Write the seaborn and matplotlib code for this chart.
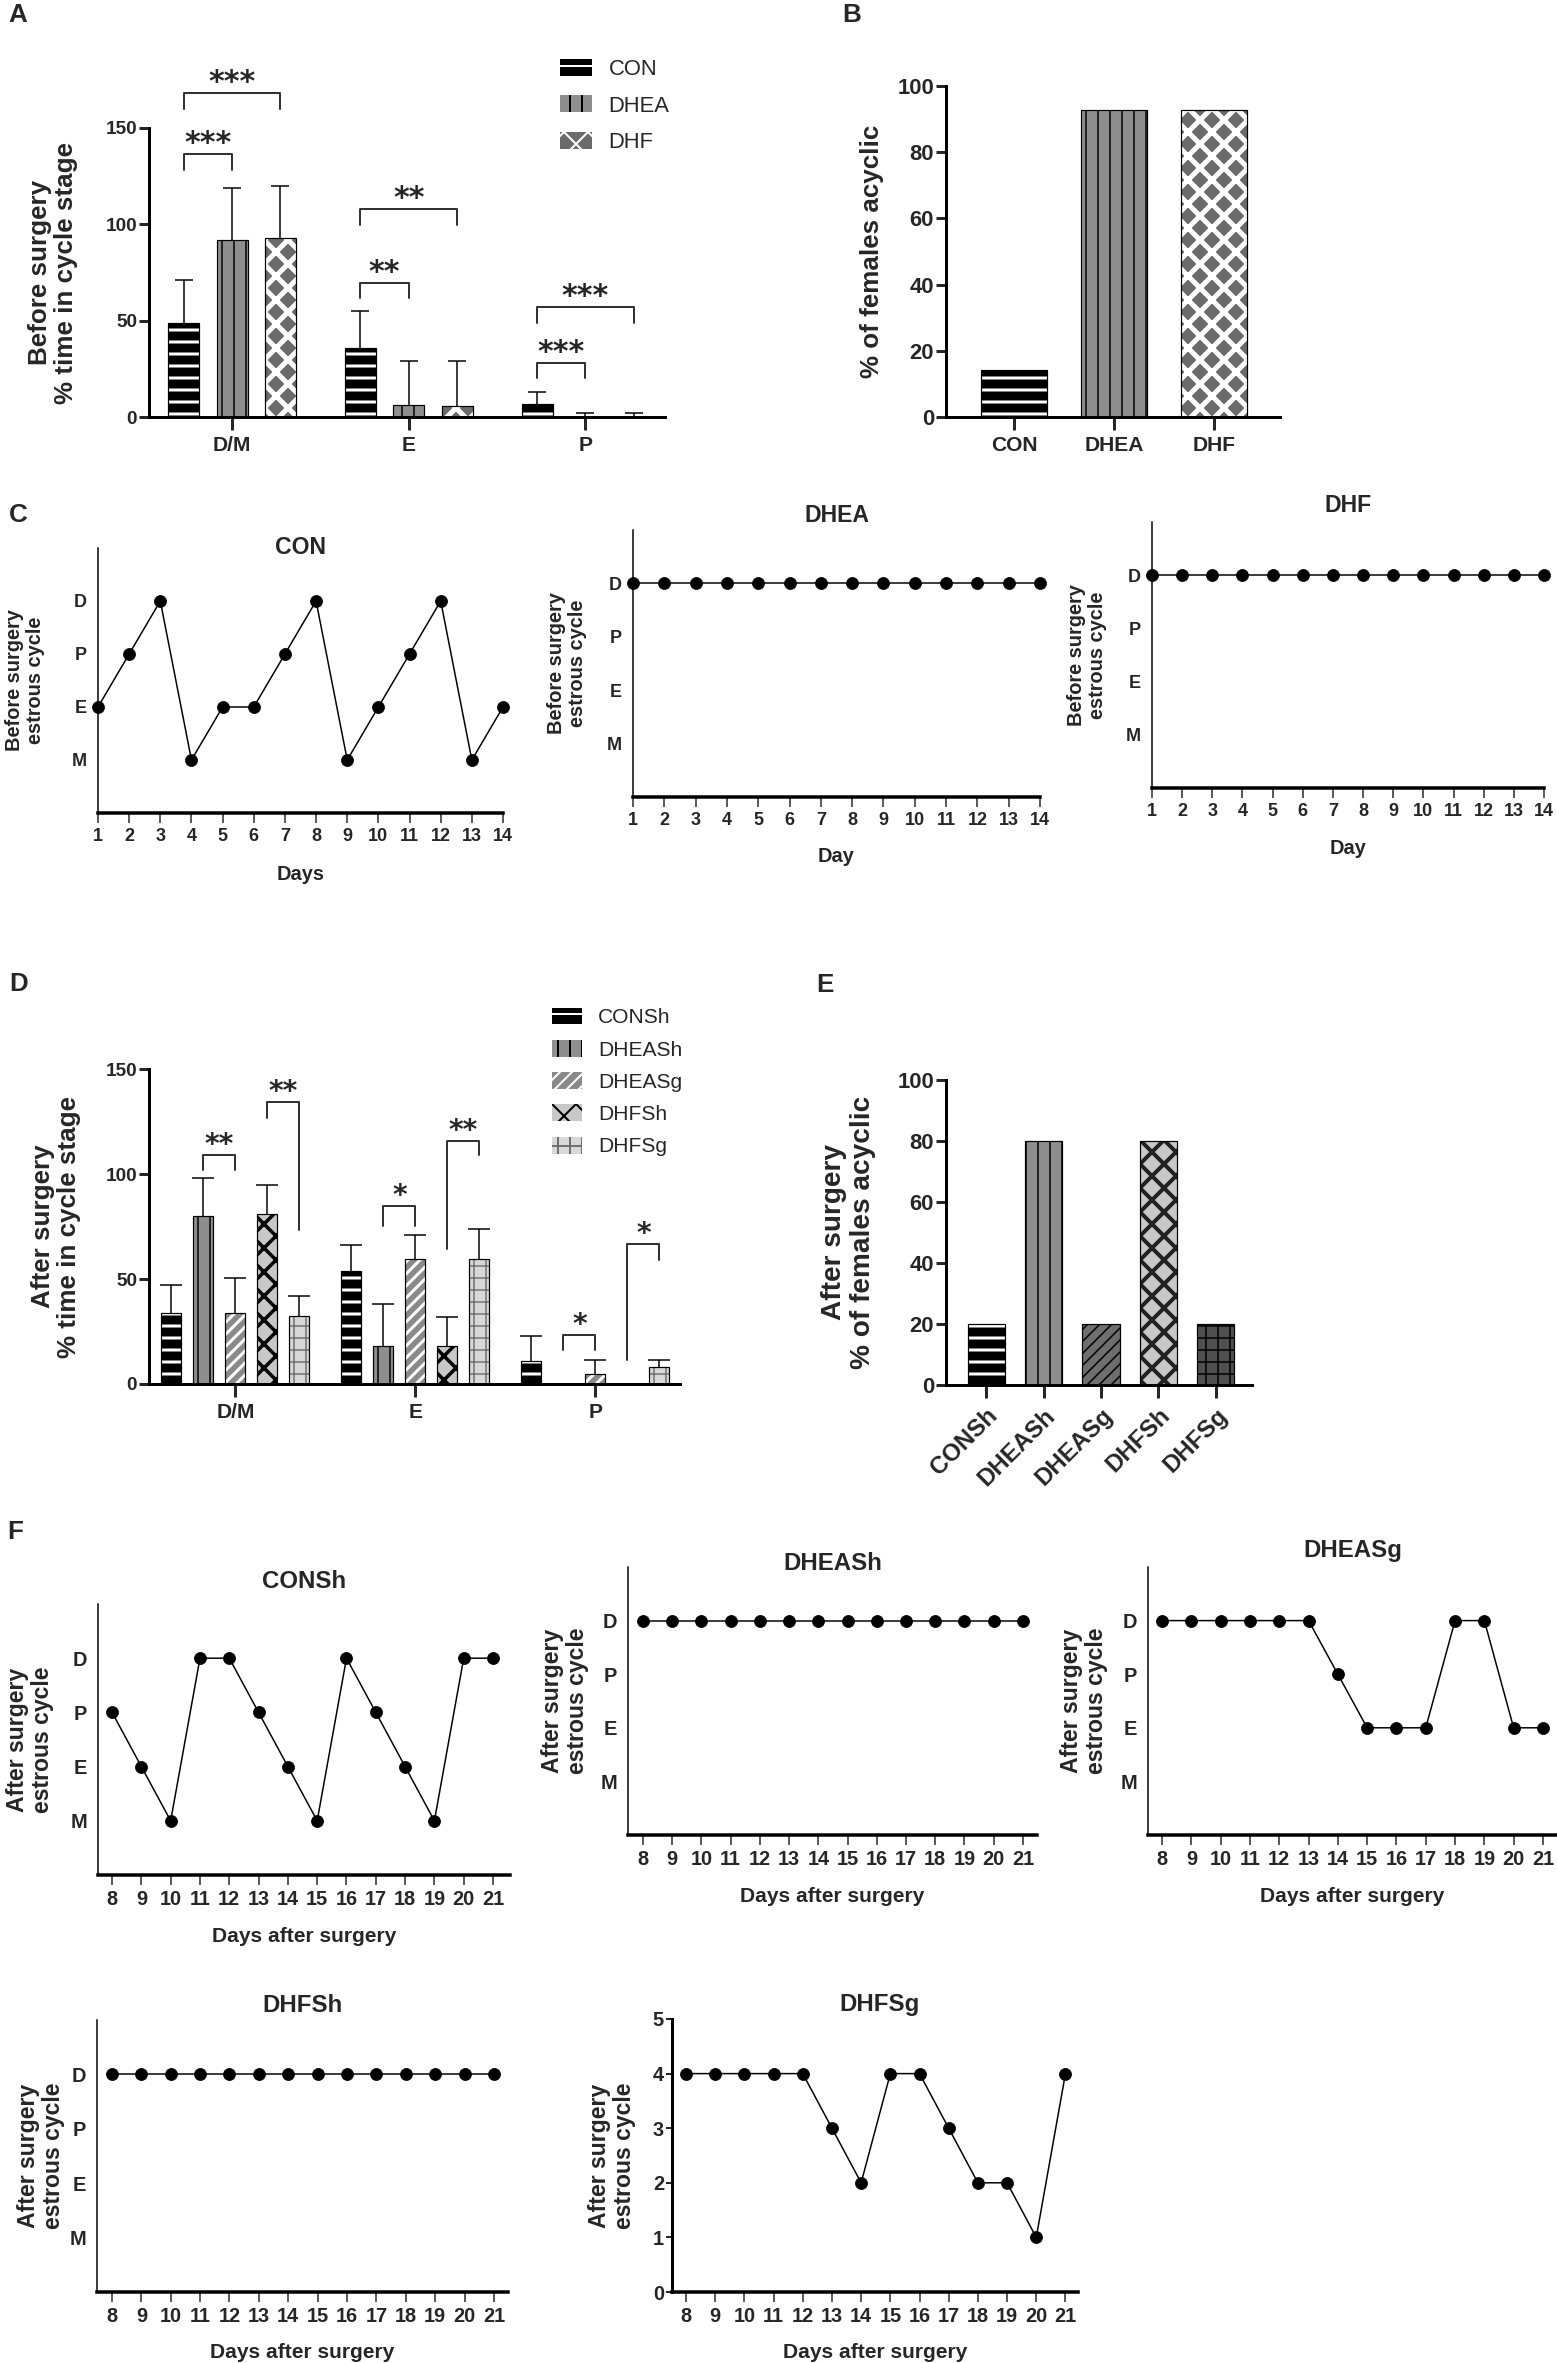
import numpy as np
import pandas as pd
import matplotlib
matplotlib.use("Agg")
import matplotlib.pyplot as plt
from matplotlib.patches import Patch, Rectangle
import seaborn as sns

# ---------------- data ----------------
stage_labels = ["D/M", "E", "P"]

# before surgery, % time in cycle stage (mean and SD)
pre_groups = ["CON", "DHEA", "DHF"]
pre_con_mean = [49, 36, 7]
pre_con_sd = [22, 19, 6]
pre_dhea_mean = [92, 6, 0]
pre_dhea_sd = [27, 23, 2]
pre_dhf_mean = [93, 5.5, 0]
pre_dhf_sd = [27, 23.5, 2]

# % of females acyclic before surgery
acyclic_pre = [14.3, 92.9, 92.9]

# after surgery, % time in cycle stage (mean and SD)
post_groups = ["CONSh", "DHEASh", "DHEASg", "DHFSh", "DHFSg"]
post_consh_mean = [34, 54, 11]
post_consh_sd = [13, 12, 12]
post_dheash_mean = [80, 18, 0]
post_dheash_sd = [18, 20, 0]
post_dheasg_mean = [34, 59.5, 5]
post_dheasg_sd = [16.5, 11.5, 6.5]
post_dhfsh_mean = [81, 18, 0]
post_dhfsh_sd = [14, 14, 0]
post_dhfsg_mean = [32.5, 59.5, 8]
post_dhfsg_sd = [9.5, 14.5, 3.5]

# % of females acyclic after surgery
acyclic_post = [20, 80, 20, 80, 20]

# significance brackets: stage index, bar a, bar b, top, left leg end, right leg end, label
pre_sig_stage = [0, 0, 1, 1, 2, 2]
pre_sig_a = [0, 0, 0, 0, 0, 0]
pre_sig_b = [2, 1, 2, 1, 2, 1]
pre_sig_top = [168, 136.5, 108, 69.5, 57, 28]
pre_sig_left = [160, 128, 99.6, 61.8, 48.8, 20.2]
pre_sig_right = [160, 128, 99.6, 61.8, 48.8, 20.2]
pre_sig_label = ["***", "***", "**", "**", "***", "***"]

post_sig_stage = [0, 0, 1, 1, 2, 2]
post_sig_a = [1, 3, 1, 3, 1, 3]
post_sig_b = [2, 4, 2, 4, 2, 4]
post_sig_top = [108.9, 134.1, 84.6, 115.9, 23.2, 66.8]
post_sig_left = [102.1, 126.7, 75.1, 64.4, 16.3, 11.6]
post_sig_right = [102.1, 73.5, 75.1, 109.2, 16.3, 59.2]
post_sig_label = ["**", "**", "*", "**", "*", "*"]

# estrous cycle tracks
stage_names = ["M", "E", "P", "D"]
pre_days = [1, 2, 3, 4, 5, 6, 7, 8, 9, 10, 11, 12, 13, 14]
con_cycle = ["E", "P", "D", "M", "E", "E", "P", "D", "M", "E", "P", "D", "M", "E"]
dhea_cycle = ["D", "D", "D", "D", "D", "D", "D", "D", "D", "D", "D", "D", "D", "D"]
dhf_cycle = ["D", "D", "D", "D", "D", "D", "D", "D", "D", "D", "D", "D", "D", "D"]

post_days = [8, 9, 10, 11, 12, 13, 14, 15, 16, 17, 18, 19, 20, 21]
consh_cycle = ["P", "E", "M", "D", "D", "P", "E", "M", "D", "P", "E", "M", "D", "D"]
dheash_cycle = ["D", "D", "D", "D", "D", "D", "D", "D", "D", "D", "D", "D", "D", "D"]
dheasg_cycle = ["D", "D", "D", "D", "D", "D", "P", "E", "E", "E", "D", "D", "E", "E"]
dhfsh_cycle = ["D", "D", "D", "D", "D", "D", "D", "D", "D", "D", "D", "D", "D", "D"]
dhfsg_cycle = [4, 4, 4, 4, 4, 3, 2, 4, 4, 3, 2, 2, 1, 4]

# ---------------- tables ----------------
def long_table(groups, means, sds):
    rows = []
    for g, m, s in zip(groups, means, sds):
        for st, mv, sv in zip(stage_labels, m, s):
            rows.append({"group": g, "stage": st, "mean": mv, "sd": sv})
    return pd.DataFrame(rows)

pre_df = long_table(pre_groups,
                    [pre_con_mean, pre_dhea_mean, pre_dhf_mean],
                    [pre_con_sd, pre_dhea_sd, pre_dhf_sd])
post_df = long_table(post_groups,
                     [post_consh_mean, post_dheash_mean, post_dheasg_mean, post_dhfsh_mean, post_dhfsg_mean],
                     [post_consh_sd, post_dheash_sd, post_dheasg_sd, post_dhfsh_sd, post_dhfsg_sd])

# ---------------- figure ----------------
W, H, DPI = 1557, 2363, 72
sns.set_theme(style="ticks")
plt.rcParams["font.family"] = ["Liberation Sans", "DejaVu Sans"]
plt.rcParams["hatch.linewidth"] = 2.0
fig = plt.figure(figsize=(W / DPI, H / DPI), dpi=DPI)

# fill, hatch, hatch colour, hatch width
pre_styles = {
    "CON": ("black", "-", "white", 3.0),
    "DHEA": ("#8e8e8e", "|", "black", 1.5),
    "DHF": ("#6a6a6a", "x", "white", 5.0),
}
post_styles_d = {
    "CONSh": ("black", "-", "white", 3.0),
    "DHEASh": ("#8e8e8e", "|", "black", 1.5),
    "DHEASg": ("#8a8a8a", "//", "white", 3.0),
    "DHFSh": ("#c8c8c8", "x", "black", 3.5),
    "DHFSg": ("#d8d8d8", "+", "#707070", 1.5),
}
post_styles_e = {
    "CONSh": ("black", "-", "white", 3.0),
    "DHEASh": ("#8e8e8e", "|", "black", 1.5),
    "DHEASg": ("#6e6e6e", "//", "black", 1.5),
    "DHFSh": ("#c8c8c8", "x", "#222222", 4.0),
    "DHFSg": ("#505050", "+", "black", 1.5),
}


def px_axes(box):
    x0, y0, x1, y1 = box
    return fig.add_axes([x0 / W, 1 - y1 / H, (x1 - x0) / W, (y1 - y0) / H])


def place_labels(ax, box, ylabel_x, xlabel_y=None):
    x0, y0, x1, y1 = box
    ax.yaxis.set_label_coords((ylabel_x - x0) / (x1 - x0), 0.5)
    ax.yaxis.label.set_va("center")
    if xlabel_y is not None:
        ax.xaxis.set_label_coords(0.5, (y1 - xlabel_y) / (y1 - y0))
        ax.xaxis.label.set_va("center")


def style_patch(p, fc, hatch, hc, hlw):
    p.set_facecolor(fc)
    p.set_hatch(hatch)
    p.set_edgecolor(hc)
    p.set_linewidth(0)
    if hasattr(p, "set_hatch_linewidth"):
        p.set_hatch_linewidth(hlw)


def outline(ax, p):
    if p.get_height() > 0:
        ax.add_patch(Rectangle(p.get_xy(), p.get_width(), p.get_height(), fill=False,
                               ec="black", lw=1.2, zorder=p.get_zorder() + 0.5))


def panel_letter(x, y, s):
    fig.text(x / W, 1 - y / H, s, fontsize=26, fontweight="bold", ha="center", va="center")


def axis_style(ax, lw_left=3, lw_bottom=3):
    sns.despine(ax=ax)
    ax.spines["left"].set_linewidth(lw_left)
    ax.spines["bottom"].set_linewidth(lw_bottom)
    ax.spines["left"].set_color("black")
    ax.spines["bottom"].set_color("black")


def grouped_bars(ax, box, df, groups, styles, width, gap, xlim, ylim, yticks, ylabel, ylabel_x,
                 sig, capsize, star_fs, ytick_fs, ylabel_fs):
    sns.barplot(data=df, x="stage", y="mean", hue="group", order=stage_labels, hue_order=groups,
                width=width, gap=gap, errorbar=None, legend=False, ax=ax)
    n = len(stage_labels)
    bars = {}
    for h, g in enumerate(groups):
        for s in range(n):
            p = ax.patches[h * n + s]
            style_patch(p, *styles[g])
            bars[(s, h)] = p
    for (s, h), p in list(bars.items()):
        outline(ax, p)
        sd = df[(df.group == groups[h]) & (df.stage == stage_labels[s])]["sd"].iloc[0]
        if sd > 0:
            xc = p.get_x() + p.get_width() / 2
            m = p.get_height()
            eb = ax.errorbar([xc], [m], yerr=[[0], [sd]], fmt="none", ecolor="black",
                             elinewidth=1.5, capsize=capsize, capthick=1.5, zorder=5)
            for cl in eb.lines[1]:
                if np.allclose(cl.get_ydata(), m):
                    cl.set_visible(False)
    for s, a, b, top, l1, l2, lab in zip(*sig):
        xa = bars[(s, a)].get_x() + bars[(s, a)].get_width() / 2
        xb = bars[(s, b)].get_x() + bars[(s, b)].get_width() / 2
        ax.plot([xa, xa, xb, xb], [l1, top, top, l2], color="#333333", lw=2, clip_on=False)
        ax.text((xa + xb) / 2, top + 1, lab, ha="center", va="baseline", fontsize=star_fs,
                fontweight="bold", family="DejaVu Sans", clip_on=False)
    axis_style(ax)
    ax.set_xlim(*xlim)
    ax.set_ylim(*ylim)
    ax.set_yticks(yticks)
    ax.set_xlabel("")
    ax.set_ylabel(ylabel, fontsize=ylabel_fs, fontweight="bold", linespacing=1.15)
    ax.tick_params(axis="y", length=10, width=3, pad=2, labelsize=ytick_fs)
    ax.tick_params(axis="x", length=13, width=3, pad=6, labelsize=21)
    for t in ax.get_yticklabels() + ax.get_xticklabels():
        t.set_fontweight("bold")
    place_labels(ax, box, ylabel_x)


def single_bars(ax, box, groups, values, styles, width, xlim, ylabel, ylabel_x, ytick_fs, ylabel_fs):
    sns.barplot(x=groups, y=values, width=width, color="white", errorbar=None, ax=ax)
    for g, p in zip(groups, list(ax.patches)):
        style_patch(p, *styles[g])
        outline(ax, p)
    axis_style(ax)
    ax.set_xlim(*xlim)
    ax.set_ylim(0, 100)
    ax.set_yticks([0, 20, 40, 60, 80, 100])
    ax.set_ylabel(ylabel, fontsize=ylabel_fs, fontweight="bold", linespacing=1.15)
    ax.tick_params(axis="y", length=10, width=3, pad=2, labelsize=ytick_fs)
    ax.tick_params(axis="x", length=13, width=3, pad=6, labelsize=21)
    for t in ax.get_yticklabels() + ax.get_xticklabels():
        t.set_fontweight("bold")
    place_labels(ax, box, ylabel_x)


def cycle_panel(ax, box, days, cycle, title, title_y, xlabel, xlabel_y, ylabel, ylabel_x, xlim,
                fs_tick, fs_title, fs_xlabel, fs_ylabel, numeric=False, title_x=0.5):
    if numeric:
        yv = list(cycle)
    else:
        yv = [stage_names.index(c) + 1 for c in cycle]
    sns.lineplot(x=days, y=yv, ax=ax, color="black", linewidth=1.5, marker="o", markersize=12,
                 markeredgecolor="black", markerfacecolor="black", clip_on=False, zorder=5)
    axis_style(ax, lw_left=3 if numeric else 1.5, lw_bottom=3.5)
    ax.set_xlim(*xlim)
    ax.set_ylim(0, 5)
    ax.set_xticks(days)
    ax.set_xticklabels([str(d) for d in days])
    if numeric:
        ax.set_yticks([0, 1, 2, 3, 4, 5])
        ax.tick_params(axis="y", length=6, width=2, pad=2, labelsize=fs_tick)
    else:
        ax.set_yticks([1, 2, 3, 4])
        ax.set_yticklabels(stage_names)
        ax.tick_params(axis="y", length=0, pad=11, labelsize=fs_tick)
    ax.tick_params(axis="x", length=10, width=1.5, pad=5, labelsize=fs_tick)
    for t in ax.get_yticklabels() + ax.get_xticklabels():
        t.set_fontweight("bold")
    ax.set_xlabel(xlabel, fontsize=fs_xlabel, fontweight="bold")
    ax.set_ylabel(ylabel, fontsize=fs_ylabel, fontweight="bold", linespacing=1.1)
    place_labels(ax, box, ylabel_x, xlabel_y)
    x0, y0, x1, y1 = box
    ax.text(title_x, 1 + (y0 - title_y) / (y1 - y0), title, transform=ax.transAxes,
            ha="center", va="center", fontsize=fs_title, fontweight="bold")


# ---- A ----
box_a = (149, 128, 665, 417)
ax_a = px_axes(box_a)
grouped_bars(ax_a, box_a, pre_df, pre_groups, pre_styles, 0.822, 0.36, (-0.47, 2.45), (0, 150),
             [0, 50, 100, 150], "Before surgery\n% time in cycle stage", 53,
             (pre_sig_stage, pre_sig_a, pre_sig_b, pre_sig_top, pre_sig_left, pre_sig_right, pre_sig_label),
             capsize=9, star_fs=30, ytick_fs=19, ylabel_fs=26)
handles = [Patch(facecolor=pre_styles[g][0], hatch=pre_styles[g][1], edgecolor=pre_styles[g][2],
                 linewidth=0, label=g) for g in pre_groups]
fig.legend(handles=handles, loc="center left", bbox_to_anchor=(560 / W, 1 - 106 / H), frameon=False,
           fontsize=22, borderpad=0, borderaxespad=0, handlelength=1.45, handleheight=0.8,
           handletextpad=0.75, labelspacing=0.7)
panel_letter(18, 15, "A")

# ---- B ----
box_b = (946, 86, 1280, 417)
ax_b = px_axes(box_b)
single_bars(ax_b, box_b, pre_groups, acyclic_pre, pre_styles, 0.66, (-0.68, 2.66),
            "% of females acyclic", 872, 22, 26)
panel_letter(852, 15, "B")

# ---- C ----
box_c1 = (98, 548, 503, 813)
cycle_panel(px_axes(box_c1), box_c1, pre_days, con_cycle, "CON", 548, "Days", 875,
            "Before surgery\nestrous cycle", 25, (1, 14), 18, 23, 20, 20)
box_c2 = (633, 530, 1040, 797)
cycle_panel(px_axes(box_c2), box_c2, pre_days, dhea_cycle, "DHEA", 515, "Day", 857,
            "Before surgery\nestrous cycle", 567, (1, 14), 18, 23, 20, 20)
box_c3 = (1152, 522, 1544, 788)
cycle_panel(px_axes(box_c3), box_c3, pre_days, dhf_cycle, "DHF", 505, "Day", 848,
            "Before surgery\nestrous cycle", 1087, (1, 14), 18, 23, 20, 20)
panel_letter(18, 515, "C")

# ---- D ----
box_d = (149, 1069, 680, 1384)
ax_d = px_axes(box_d)
grouped_bars(ax_d, box_d, post_df, post_groups, post_styles_d, 0.889, 0.375, (-0.48, 2.47), (0, 150),
             [0, 50, 100, 150], "After surgery\n% time in cycle stage", 56,
             (post_sig_stage, post_sig_a, post_sig_b, post_sig_top, post_sig_left, post_sig_right, post_sig_label),
             capsize=11, star_fs=28, ytick_fs=19, ylabel_fs=26)
handles = [Patch(facecolor=post_styles_d[g][0], hatch=post_styles_d[g][1], edgecolor=post_styles_d[g][2],
                 linewidth=0, label=g) for g in post_groups]
fig.legend(handles=handles, loc="center left", bbox_to_anchor=(552 / W, 1 - 1082 / H), frameon=False,
           fontsize=21, borderpad=0, borderaxespad=0, handlelength=1.43, handleheight=0.86,
           handletextpad=0.76, labelspacing=0.6)
panel_letter(19, 984, "D")

# ---- E ----
box_e = (946, 1080, 1252, 1385)
ax_e = px_axes(box_e)
single_bars(ax_e, box_e, post_groups, acyclic_post, post_styles_e, 0.65, (-0.7, 4.63),
            "After surgery\n% of females acyclic", 848, 22, 28)
for t in ax_e.get_xticklabels():
    t.set_rotation(45)
    t.set_ha("right")
    t.set_rotation_mode("anchor")
    t.set_fontsize(24)
panel_letter(825, 985, "E")

# ---- F ----
ylab_f = "After surgery\nestrous cycle"
box_f1 = (98, 1604, 510, 1875)
cycle_panel(px_axes(box_f1), box_f1, post_days, consh_cycle, "CONSh", 1582, "Days after surgery", 1937,
            ylab_f, 30, (7.52, 21.58), 20, 24, 21, 23)
box_f2 = (628, 1567, 1037, 1835)
cycle_panel(px_axes(box_f2), box_f2, post_days, dheash_cycle, "DHEASh", 1563, "Days after surgery", 1897,
            ylab_f, 565, (7.49, 21.48), 20, 24, 21, 23)
box_f3 = (1148, 1567, 1557, 1835)
cycle_panel(px_axes(box_f3), box_f3, post_days, dheasg_cycle, "DHEASg", 1550, "Days after surgery", 1897,
            ylab_f, 1084, (7.52, 21.48), 20, 24, 21, 23)
box_f4 = (97, 2020, 508, 2292)
cycle_panel(px_axes(box_f4), box_f4, post_days, dhfsh_cycle, "DHFSh", 2005, "Days after surgery", 2352,
            ylab_f, 41, (7.49, 21.48), 20, 24, 21, 23)
box_f5 = (672, 2019, 1078, 2292)
cycle_panel(px_axes(box_f5), box_f5, post_days, dhfsg_cycle, "DHFSg", 2005, "Days after surgery", 2352,
            ylab_f, 612, (7.52, 21.43), 20, 24, 21, 23, numeric=True, title_x=0.51)
panel_letter(15, 1532, "F")

fig.savefig("out.png", dpi=DPI, facecolor="white")
